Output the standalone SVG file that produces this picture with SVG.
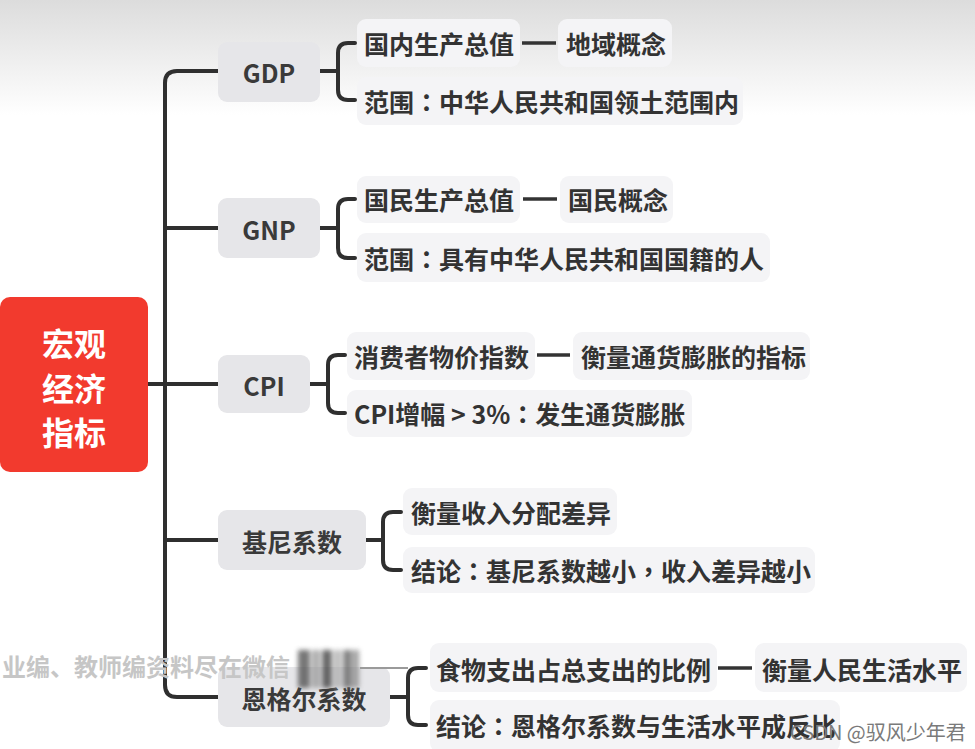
<svg xmlns="http://www.w3.org/2000/svg" width="975" height="749" viewBox="0 0 975 749">
<defs>
<linearGradient id="topfade" x1="0" y1="0" x2="0" y2="1">
<stop offset="0" stop-color="#dcdcdc"/>
<stop offset="1" stop-color="#ffffff"/>
</linearGradient>
<filter id="blur" x="-20%" y="-20%" width="140%" height="140%"><feGaussianBlur stdDeviation="2.5"/></filter>
<style>
text{font-family:"Noto Sans CJK SC","Noto Sans",sans-serif;dominant-baseline:central}
.p{font-family:"Noto Sans CJK TC","Noto Sans CJK SC",sans-serif}
.node{fill:#e6e6e9}
.leaf{fill:#f4f4f6}
.nt{font-size:25px;font-weight:700;fill:#3a3a3a;text-anchor:middle}
.lt{font-size:25px;font-weight:700;fill:#333333}
.rt{font-size:32px;font-weight:700;fill:#ffffff;text-anchor:middle}
.conn{fill:none;stroke:#2f2f2f;stroke-width:4;stroke-linecap:round;stroke-linejoin:round}
.dash{fill:none;stroke:#333333;stroke-width:3.5}
.wm{font-size:24px;font-weight:700;fill:#c6c6c6}
.wm2{font-size:20px;font-weight:400;fill:#7a7a7a}
</style>
</defs>
<rect x="0" y="0" width="975" height="749" fill="#ffffff"/>
<rect x="0" y="0" width="975" height="115" fill="url(#topfade)"/>

<g id="connectors">
<path class="conn" d="M148,384 H165"/>
<path class="conn" d="M218,71 H177 Q165,71 165,83 V685 Q165,697 177,697 H218"/>
<path class="conn" d="M165,228 H218"/>
<path class="conn" d="M165,384 H218"/>
<path class="conn" d="M165,540 H218"/>
<path class="conn" d="M320,71 H338"/>
<path class="conn" d="M355,43 H348 Q338,43 338,53 V90 Q338,100 348,100 H355"/>
<path class="conn" d="M320,228 H338"/>
<path class="conn" d="M355,199 H348 Q338,199 338,209 V248 Q338,258 348,258 H355"/>
<path class="conn" d="M310,384 H328"/>
<path class="conn" d="M345,355 H338 Q328,355 328,365 V403 Q328,413 338,413 H345"/>
<path class="conn" d="M366,540 H383"/>
<path class="conn" d="M401,512 H393 Q383,512 383,522 V560 Q383,570 393,570 H401"/>
<path class="conn" d="M390,697 H408"/>
<path class="conn" d="M426,668 H418 Q408,668 408,678 V715 Q408,725 418,725 H426"/>
<path class="dash" d="M522,43 H556"/>
<path class="dash" d="M523,199 H557"/>
<path class="dash" d="M537,355 H570"/>
<path class="dash" d="M718,668 H752"/>
</g>

<g id="root">
<rect x="0" y="297" width="148" height="175" rx="10" fill="#f23a2e"/>
<text class="rt" x="74" y="342">宏观</text>
<text class="rt" x="74" y="387">经济</text>
<text class="rt" x="74" y="431">指标</text>
</g>

<g id="gdp">
<rect class="node" x="218" y="42" width="102" height="60" rx="9"/>
<text class="nt" x="269" y="72">GDP</text>
</g>
<g id="gdp-1">
<rect class="leaf" x="357" y="19" width="163" height="48" rx="9"/>
<text class="lt" x="364" y="43">国内生产总值</text>
</g>
<g id="gdp-1b">
<rect class="leaf" x="558" y="19" width="114" height="48" rx="9"/>
<text class="lt" x="566" y="43">地域概念</text>
</g>
<g id="gdp-2">
<rect class="leaf" x="357" y="77" width="386" height="48" rx="9"/>
<text class="lt" x="364" y="101">范围<tspan class="p">：</tspan>中华人民共和国领土范围内</text>
</g>

<g id="gnp">
<rect class="node" x="218" y="198" width="102" height="60" rx="9"/>
<text class="nt" x="269" y="229">GNP</text>
</g>
<g id="gnp-1">
<rect class="leaf" x="357" y="176" width="163" height="47" rx="9"/>
<text class="lt" x="364" y="199">国民生产总值</text>
</g>
<g id="gnp-1b">
<rect class="leaf" x="560" y="176" width="113" height="47" rx="9"/>
<text class="lt" x="568" y="199">国民概念</text>
</g>
<g id="gnp-2">
<rect class="leaf" x="357" y="233" width="413" height="49" rx="9"/>
<text class="lt" x="364" y="258">范围<tspan class="p">：</tspan>具有中华人民共和国国籍的人</text>
</g>

<g id="cpi">
<rect class="node" x="218" y="355" width="92" height="58" rx="9"/>
<text class="nt" x="264" y="385">CPI</text>
</g>
<g id="cpi-1">
<rect class="leaf" x="347" y="332" width="188" height="48" rx="9"/>
<text class="lt" x="354" y="356">消费者物价指数</text>
</g>
<g id="cpi-1b">
<rect class="leaf" x="573" y="332" width="237" height="48" rx="9"/>
<text class="lt" x="581" y="356">衡量通货膨胀的指标</text>
</g>
<g id="cpi-2">
<rect class="leaf" x="347" y="390" width="345" height="47" rx="9"/>
<text class="lt" x="354" y="413">CPI增幅 &gt; 3%<tspan class="p">：</tspan>发生通货膨胀</text>
</g>

<g id="gini">
<rect class="node" x="218" y="510" width="148" height="60" rx="9"/>
<text class="nt" x="292" y="541">基尼系数</text>
</g>
<g id="gini-1">
<rect class="leaf" x="403" y="488" width="214" height="47" rx="9"/>
<text class="lt" x="411" y="512">衡量收入分配差异</text>
</g>
<g id="gini-2">
<rect class="leaf" x="403" y="547" width="412" height="46" rx="9"/>
<text class="lt" x="411" y="570">结论<tspan class="p">：</tspan>基尼系数越小<tspan class="p">，</tspan>收入差异越小</text>
</g>

<g id="engel">
<rect class="node" x="218" y="667" width="172" height="60" rx="9"/>
<text class="nt" x="304" y="698">恩格尔系数</text>
</g>
<g id="engel-1">
<rect class="leaf" x="430" y="643" width="287" height="49" rx="9"/>
<text class="lt" x="436" y="669">食物支出占总支出的比例</text>
</g>
<g id="engel-1b">
<rect class="leaf" x="755" y="643" width="212" height="49" rx="9"/>
<text class="lt" x="762" y="669">衡量人民生活水平</text>
</g>
<g id="engel-2">
<rect class="leaf" x="430" y="700" width="410" height="52" rx="9"/>
<text class="lt" x="436" y="725">结论<tspan class="p">：</tspan>恩格尔系数与生活水平成反比</text>
</g>

<g id="watermark">
<text class="wm" x="2" y="665">业编、教师编资料尽在微信</text>
<g filter="url(#blur)" opacity="0.8">
<rect x="298" y="650" width="12" height="38" fill="#555"/>
<rect x="312" y="650" width="8" height="38" fill="#999"/>
<rect x="322" y="650" width="10" height="38" fill="#444"/>
<rect x="334" y="650" width="7" height="38" fill="#aaa"/>
<rect x="343" y="650" width="9" height="38" fill="#666"/>
<rect x="353" y="650" width="6" height="38" fill="#888"/>
</g>
<path d="M360,668 H408" stroke="#9a9a9a" stroke-width="2"/>
<text class="wm2" x="790" y="731">CSDN @驭风少年君</text>
</g>
</svg>
